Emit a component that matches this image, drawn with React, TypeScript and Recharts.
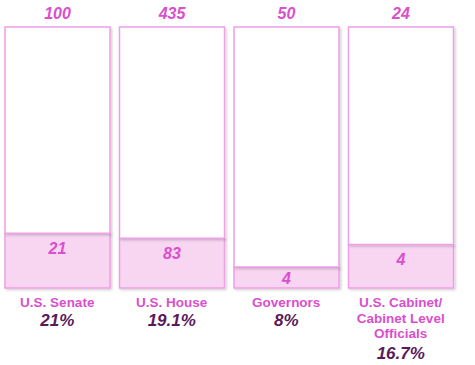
import React from "react";
import { BarChart, Bar, XAxis, YAxis, LabelList } from "recharts";

const categories = ["U.S. Senate", "U.S. House", "Governors", "U.S. Cabinet/\nCabinet Level\nOfficials"];
const totals = [100, 435, 50, 24];
const women = [21, 83, 4, 4];
const percents = [21, 19.1, 8, 16.7];
const percentLabels = ["21%", "19.1%", "8%", "16.7%"];

const data = categories.map((c, i) => ({
  name: c,
  total: totals[i],
  women: women[i],
  pct: percents[i],
  rest: 100 - percents[i],
  pctLabel: percentLabels[i],
}));

const PINK = "#d94fcc";
const DARK = "#5a1a5a";
const STROKE = "#ef9fe6";
const FILL = "#f8d6f2";
const FONT = "Arial, 'Liberation Sans', sans-serif";

const Tick = (props: any) => {
  const { x, y, payload, index } = props;
  const lines = String(payload.value).split("\n");
  const d = data[index];
  return (
    <g>
      {lines.map((l: string, i: number) => (
        <text
          key={i}
          x={x}
          y={y + 11 + i * 15.5}
          textAnchor="middle"
          fill={PINK}
          fontFamily={FONT}
          fontWeight="bold"
          fontSize={13.5}
        >
          {l}
        </text>
      ))}
      <text
        x={x}
        y={y + 30 + (lines.length - 1) * 16.5}
        textAnchor="middle"
        fill={DARK}
        fontFamily={FONT}
        fontWeight="bold"
        fontStyle="italic"
        fontSize={17}
      >
        {d ? d.pctLabel : ""}
      </text>
    </g>
  );
};

const TopLabel = (props: any) => {
  const { x, y, width, value } = props;
  return (
    <text
      x={x + width / 2}
      y={y - 8}
      textAnchor="middle"
      fill={PINK}
      fontFamily={FONT}
      fontWeight="bold"
      fontStyle="italic"
      fontSize={16}
    >
      {value}
    </text>
  );
};

const InnerLabel = (props: any) => {
  const { x, y, width, height, value } = props;
  const cy = height < 36 ? y + height / 2 + 6 : y + 21;
  return (
    <text
      x={x + width / 2}
      y={cy}
      textAnchor="middle"
      fill={PINK}
      fontFamily={FONT}
      fontWeight="bold"
      fontStyle="italic"
      fontSize={16}
    >
      {value}
    </text>
  );
};

export default function App() {
  return (
    <div style={{ position: "absolute", left: 0, top: 0, width: 475, height: 365, background: "#fff" }}>
      <BarChart
        width={475}
        height={365}
        data={data}
        margin={{ top: 27, right: 17, bottom: 0, left: 0 }}
        barSize={105}
      >
        <defs>
          <filter id="sh" x="-10%" y="-10%" width="130%" height="130%">
            <feDropShadow dx="1.5" dy="1.5" stdDeviation="1" floodColor="#000" floodOpacity="0.18" />
          </filter>
        </defs>
        <XAxis
          dataKey="name"
          axisLine={false}
          tickLine={false}
          height={77}
          interval={0}
          tick={<Tick />}
        />
        <YAxis hide domain={[0, 100]} />
        <Bar
          dataKey="pct"
          stackId="a"
          fill={FILL}
          stroke={STROKE}
          strokeWidth={1.5}
          isAnimationActive={false}
          style={{ filter: "url(#sh)" }}
        >
          <LabelList dataKey="women" content={<InnerLabel />} />
        </Bar>
        <Bar
          dataKey="rest"
          stackId="a"
          fill="#ffffff"
          stroke={STROKE}
          strokeWidth={1.5}
          isAnimationActive={false}
          style={{ filter: "url(#sh)" }}
        >
          <LabelList dataKey="total" content={<TopLabel />} />
        </Bar>
      </BarChart>
    </div>
  );
}
